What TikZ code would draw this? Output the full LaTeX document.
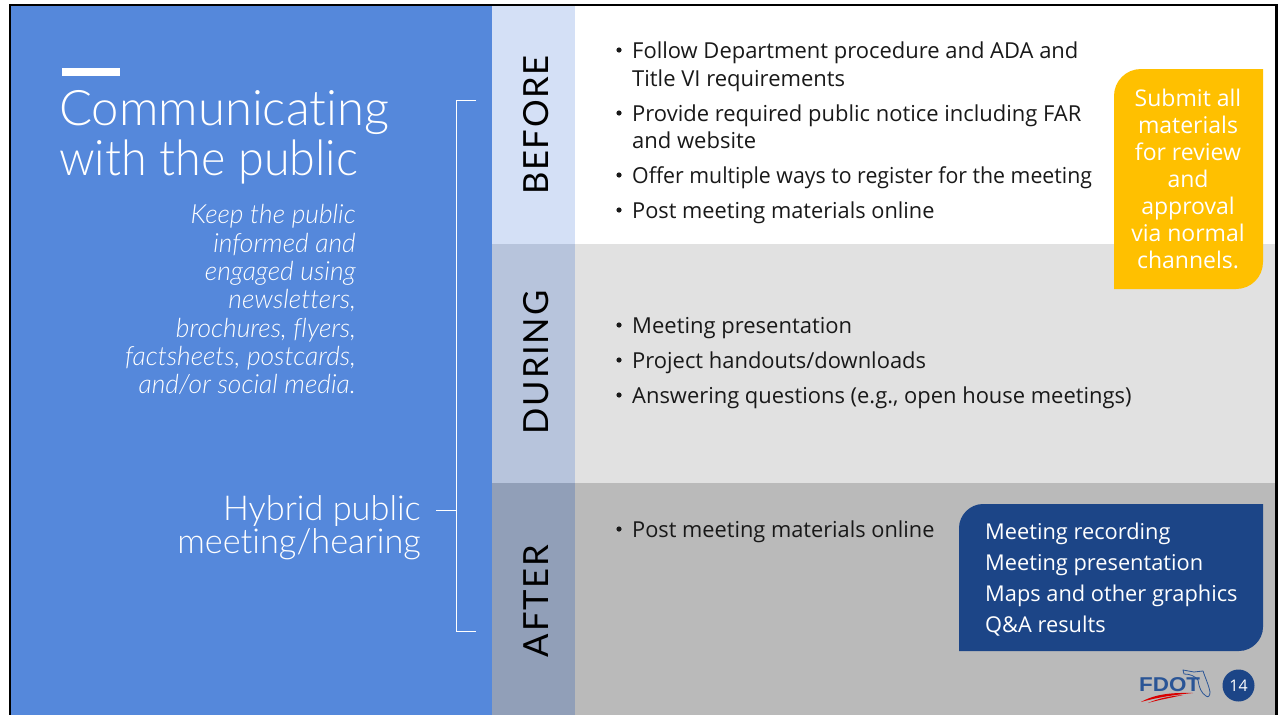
\documentclass[tikz,border=0pt]{standalone}
\usepackage{fontspec}
\setmainfont{Open Sans}
\newfontfamily\lt[Ligatures=CommonOff]{Lato Light}
\newfontfamily\ltit[Ligatures=CommonOff]{Lato Light Italic}
\newfontfamily\lts[LetterSpace=5,Ligatures=CommonOff]{Lato}
\newfontfamily\hv{Liberation Sans}[FakeStretch=1.12]
\definecolor{blueP}{HTML}{5588DB}
\definecolor{navy}{HTML}{1C4587}
\definecolor{amber}{HTML}{FFC000}
\definecolor{grayA}{HTML}{E1E1E1}
\definecolor{grayB}{HTML}{BABABA}
\definecolor{tabA}{HTML}{D4E0F6}
\definecolor{tabB}{HTML}{B7C4DC}
\definecolor{tabC}{HTML}{919FB8}
\definecolor{logoB}{HTML}{2A5596}
\tikzset{x=1pt,y=-1pt,
  bul/.style={anchor=base west,inner sep=0,font=\fontsize{22}{28}\selectfont,text=black!90},
  tab/.style={rotate=90,inner sep=0,font=\lts\fontsize{34.6}{36}\selectfont,text=black},
  wh/.style={draw=white,line width=1pt}}
\begin{document}
\begin{tikzpicture}
\useasboundingbox (0,0) rectangle (1278,715);
\fill[white] (0,0) rectangle (1278,715);
% panels
\fill[blueP] (11,6) rectangle (492,715);
\fill[white] (575,6) rectangle (1276,244);
\fill[grayA] (575,244) rectangle (1276,483);
\fill[grayB] (575,483) rectangle (1276,715);
\fill[tabA] (492,6) rectangle (575,244);
\fill[tabB] (492,244) rectangle (575,483);
\fill[tabC] (492,483) rectangle (575,715);
% frame
\draw[black,line width=2.5pt] (10,715) -- (10,5) -- (1276.5,5) -- (1276.5,715);
% title
\fill[white] (62,68) rectangle (120,76);
\node[anchor=base west,inner sep=0,text=white,font=\lt\fontsize{49}{49}\selectfont] (title1) at (59,125) {Communicating};
\node[anchor=base west,inner sep=0,xscale=.952,text=white,font=\lt\fontsize{49}{49}\selectfont] (title2) at (59,175) {with the public};
\node[anchor=north east,inner sep=0,align=right,text=white,font=\ltit\fontsize{26.4}{28.3}\selectfont] (sub) at (356,204.5)
 {Keep the public\\informed and\\engaged using\\newsletters,\\brochures, flyers,\\factsheets, postcards,\\and/or social media.};
\node[anchor=north east,inner sep=0,align=right,text=white,font=\lt\fontsize{34.3}{32.5}\selectfont] (hyb) at (421,495.5)
 {Hybrid public\\meeting/hearing};
% bracket
\coordinate (bt) at (476,100);
\coordinate (bb) at (476,631);
\coordinate (bm) at (456,510);
\draw[wh] (bt) -- (456.5,100) -- (456.5,631) -- (bb);
\draw[wh] (436,510) -- (bm);
% tabs
\node[tab] (t1) at (536,125) {BEFORE};
\node[tab] (t2) at (536,362.5) {DURING};
\node[tab] (t3) at (536,601) {AFTER};
% bullets
\foreach \yy/\sc/\tt in {58/.998/{Follow Department procedure and ADA and},
  86/1/{Title VI requirements},
  121/.998/{Provide required public notice including FAR},
  148/1/{and website},
  183/.968/{Offer multiple ways to register for the meeting},
  218/.99/{Post meeting materials online},
  333/1/{Meeting presentation},
  368/.997/{Project handouts/downloads},
  403/.996/{Answering questions (e.g., open house meetings)},
  537/.99/{Post meeting materials online}}
  \node[bul,xscale=\sc] at (632,\yy) {\tt};
\foreach \yy in {50,113,175,210,325,360,395,529}
  \fill[black!90] (619,\yy) circle (2.6);
% amber
\fill[amber] (1263,69) -- (1263,262) .. controls (1263,277) and (1251,289) .. (1236,289) -- (1114,289) -- (1114,96) .. controls (1114,81) and (1126,69) .. (1141,69) -- cycle;
\node[inner sep=0,align=center,text=white,font=\fontsize{23}{27}\selectfont] (sub2) at (1188,178.5)
 {Submit all\\materials\\for review\\and\\approval\\via normal\\channels.};
% navy
\fill[navy] (1263,504) -- (1263,627) .. controls (1263,640) and (1252,651) .. (1239,651) -- (959,651) -- (959,528) .. controls (959,515) and (970,504) .. (983,504) -- cycle;
\node[anchor=north west,inner sep=0,align=left,text=white,font=\fontsize{21.8}{31}\selectfont] (res) at (985,523)
 {Meeting recording\\Meeting presentation\\Maps and other graphics\\Q\&A results};
% logo
\fill[navy] (1238.5,685.5) circle (16);
\node[text=white,inner sep=0,font=\fontsize{16}{16}\selectfont] (pg) at (1238.5,685.5) {14};
\draw[logoB,line width=0.8pt,line join=round,fill=none]
  (1183,670) -- (1184,674) .. controls (1190,674) and (1195,676) .. (1198,680)
  .. controls (1199,687) and (1201,693) .. (1206,696) .. controls (1208,698) and (1210,696) .. (1210,692)
  .. controls (1209,686) and (1205,677) .. (1203,671) -- (1194,672) -- cycle;
\node[anchor=base west,inner sep=0,text=logoB,font=\hv\bfseries\fontsize{20}{20}\selectfont] (fdot) at (1139,691.5) {FDOT};
\fill[red!85!black] (1141,702) .. controls (1155,694) and (1172,692.5) .. (1193,693) .. controls (1172,695) and (1155,698) .. (1141,702) -- cycle;
\fill[red!85!black] (1148,703) .. controls (1158,698.5) and (1170,696) .. (1183,695) .. controls (1170,698) and (1158,700) .. (1148,703) -- cycle;
\end{tikzpicture}
\end{document}
